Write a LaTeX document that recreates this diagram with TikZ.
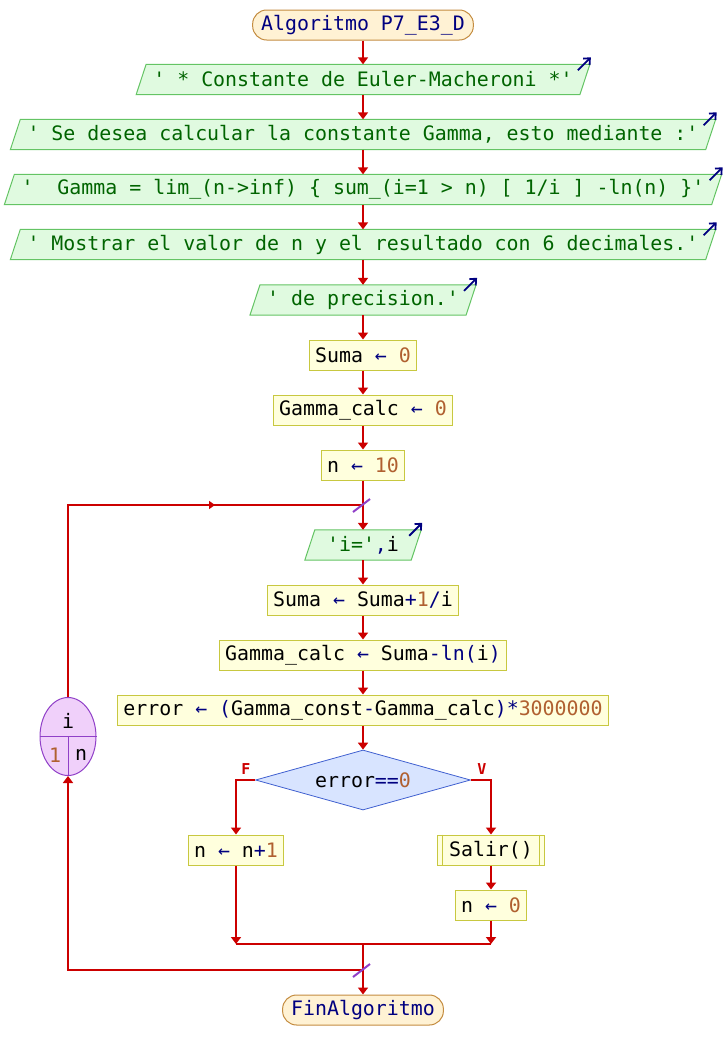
\documentclass[tikz,border=0pt]{standalone}
\usepackage{fontspec}
\setmonofont{DejaVu Sans Mono}
\usetikzlibrary{arrows.meta,shapes.geometric,calc,backgrounds,decorations.markings}
\definecolor{linered}{RGB}{204,0,0}
\definecolor{kwblue}{RGB}{0,0,128}
\definecolor{numbrown}{RGB}{176,96,48}
\definecolor{strgreen}{RGB}{0,100,0}
\definecolor{procfill}{RGB}{255,255,221}
\definecolor{procdraw}{RGB}{200,200,64}
\definecolor{outfill}{RGB}{224,250,224}
\definecolor{outdraw}{RGB}{100,196,100}
\definecolor{termfill}{RGB}{255,242,212}
\definecolor{termdraw}{RGB}{196,140,64}
\definecolor{decfill}{RGB}{216,228,255}
\definecolor{decdraw}{RGB}{64,96,208}
\definecolor{loopfill}{RGB}{240,208,250}
\definecolor{loopdraw}{RGB}{144,64,200}
\newcommand{\kw}[1]{\textcolor{kwblue}{#1}}
\newcommand{\nm}[1]{\textcolor{numbrown}{#1}}
\newcommand{\st}[1]{\textcolor{strgreen}{#1}}
\tikzset{
  txt/.style={font=\ttfamily\fontsize{19.9pt}{24pt}\selectfont, text=black},
  proc/.style={txt, draw=procdraw, fill=procfill, line width=1pt, minimum height=30pt, inner xsep=6pt, inner ysep=0pt},
  subproc/.style={proc, inner xsep=12pt},
  term/.style={txt, text=kwblue, draw=termdraw, fill=termfill, line width=1pt, rounded corners=14pt, minimum height=30pt, inner xsep=8.5pt, inner ysep=0pt},
  outp/.style={txt, text=strgreen, minimum height=30pt, inner xsep=12pt, inner ysep=0pt},
  outshape/.style={draw=outdraw, fill=outfill, line width=1pt},
  outarrow/.style={kwblue, line width=1.8pt, -{Straight Barb[length=5pt,width=9pt]}},
  dec/.style={txt, diamond, aspect=3.6, draw=decdraw, fill=decfill, line width=0.8pt, minimum width=215pt, minimum height=60pt, inner sep=0pt},
  conn/.style={linered, line width=2pt},
  flow/.style={conn, -{Triangle[length=7pt,width=10pt]}},
  slash/.style={loopdraw, line width=2pt},
  branch/.style={text=linered, font=\ttfamily\bfseries\fontsize{15pt}{15pt}\selectfont},
}
\begin{document}
\begin{tikzpicture}[x=1pt,y=-1pt]
\useasboundingbox (0,0) rectangle (728,1060);
% nodes
\node[term] (start) at (363,25) {Algoritmo P7\_E3\_D};
\node[outp] (o1) at (363,79.5) {' * Constante de Euler-Macheroni *'};
\node[outp] (o2) at (363,134.5) {' Se desea calcular la constante Gamma, esto mediante :'};
\node[outp] (o3) at (363,189.5) {'\ \ Gamma = lim\_(n->inf) \{ sum\_(i=1 > n) [ 1/i ] -ln(n) \}'};
\node[outp] (o4) at (363,244.5) {' Mostrar el valor de n y el resultado con 6 decimales.'};
\node[outp] (o5) at (363,300) {' de precision.'};
\node[proc] (s1) at (363,355) {Suma \kw{←} \nm{0}};
\node[proc] (g1) at (363,410) {Gamma\_calc \kw{←} \nm{0}};
\node[proc] (n10) at (363,465) {n \kw{←} \nm{10}};
\node[outp, minimum width=106pt] (oi) at (363,545) {\st{'i='}\kw{,}\textcolor{black}{i}};
\node[proc] (s2) at (363,600) {Suma \kw{←} Suma\kw{+}\nm{1}\kw{/}i};
\node[proc] (g2) at (363,655) {Gamma\_calc \kw{←} Suma\kw{-ln(}i\kw{)}};
\node[proc] (err) at (363,710) {error \kw{← (}Gamma\_const\kw{-}Gamma\_calc\kw{)*}\nm{3000000}};
\node[dec] (dec) at (363,780) {error\kw{==}\nm{0}};
\node[proc] (ninc) at (236,850) {n \kw{←} n\kw{+}\nm{1}};
\node[subproc] (sal) at (491,850) {Salir()};
\node[proc] (n0) at (491,905) {n \kw{←} \nm{0}};
\node[term] (fin) at (363,1010) {FinAlgoritmo};
% loop node
\node[ellipse, draw=loopdraw, fill=loopfill, line width=1pt, minimum width=56pt, minimum height=78pt, inner sep=0pt] (loop) at (68,736.5) {};
\draw[loopdraw, line width=1pt] (loop.west) -- (loop.east);
\draw[loopdraw, line width=1pt] (loop.center) -- (loop.south);
\node[txt] (li) at (68,721) {i};
\node[txt, text=numbrown] (l1) at (55,755) {1};
\node[txt] (ln) at (81,755) {n};
% output shapes
\begin{scope}[on background layer]
\foreach \n in {o1,o2,o3,o4,o5,oi}{
  \draw[outshape] ($(\n.south west)+(-5,0)$) -- ($(\n.north west)+(5,0)$) -- ($(\n.north east)+(5,0)$) -- ($(\n.south east)+(-5,0)$) -- cycle;
}
\end{scope}
\foreach \n in {o1,o2,o3,o4,o5,oi}{
  \draw[outarrow] ($(\n.north east)+(-7,6)$) -- ($(\n.north east)+(6,-7)$);
}
% subprocess bars
\draw[procdraw, line width=1pt] ($(sal.north west)+(6,0)$) -- ($(sal.south west)+(6,0)$);
\draw[procdraw, line width=1pt] ($(sal.north east)+(-6,0)$) -- ($(sal.south east)+(-6,0)$);
% coordinates
\coordinate (j1) at (363,505);
\coordinate (ml) at (236,944);
\coordinate (mr) at (491,944);
\coordinate (m) at (363,944);
\coordinate (j2) at (363,970);
% connectors
\draw[flow] (start) -- (o1);
\draw[flow] (o1) -- (o2);
\draw[flow] (o2) -- (o3);
\draw[flow] (o3) -- (o4);
\draw[flow] (o4) -- (o5);
\draw[flow] (o5) -- (s1);
\draw[flow] (s1) -- (g1);
\draw[flow] (g1) -- (n10);
\draw[conn] (n10) -- (j1);
\draw[flow] (j1) -- (oi);
\draw[flow] (oi) -- (s2);
\draw[flow] (s2) -- (g2);
\draw[flow] (g2) -- (err);
\draw[flow] (err) -- (dec);
\draw[flow] (dec.west) -| (ninc.north);
\draw[flow] (dec.east) -| (sal.north);
\draw[flow] (sal) -- (n0);
\draw[flow] (ninc) -- (ml);
\draw[flow] (n0) -- (mr);
\draw[conn] (ml) -- (mr);
\draw[conn] (m) -- (j2);
\draw[flow] (j2) -- (fin);
\draw[flow] (j2) -| (loop.south);
\draw[conn, decoration={markings, mark=at position 339pt with {\arrow{Triangle[length=6pt,width=8pt]}}}, postaction={decorate}] (loop.north) |- (j1);
% slashes
\draw[slash] ($(j1)+(-10,7)$) -- ($(j1)+(7,-6)$);
\draw[slash] ($(j2)+(-10,7)$) -- ($(j2)+(7,-6)$);
% branch labels
\node[branch] (lf) at (246,769) {F};
\node[branch] (lv) at (482,769) {V};
\end{tikzpicture}
\end{document}
